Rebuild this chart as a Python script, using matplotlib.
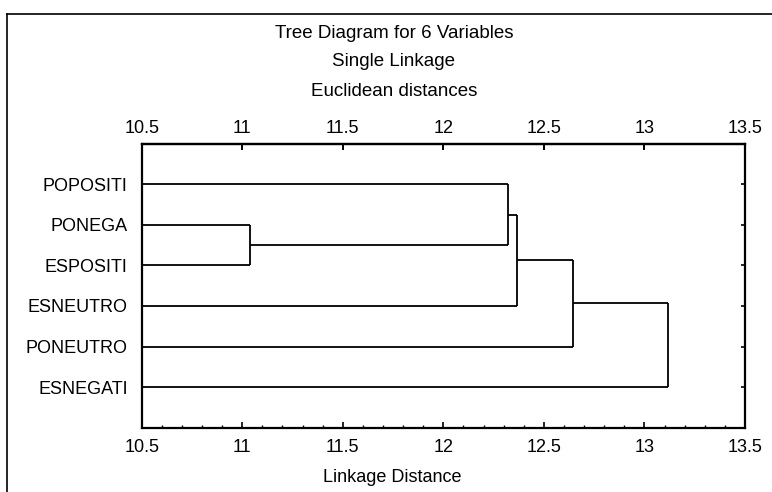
import matplotlib
matplotlib.use("Agg")
import matplotlib.pyplot as plt
from matplotlib.ticker import MultipleLocator
from matplotlib.lines import Line2D

plt.rcParams['font.family'] = ['Liberation Sans', 'DejaVu Sans']

# Data
labels = ['POPOSITI', 'PONEGA', 'ESPOSITI', 'ESNEUTRO', 'PONEUTRO', 'ESNEGATI']
# merges: cluster n+i joins child_a[i] and child_b[i] at linkage distance heights[i]
child_a = [1, 0, 7, 8, 9]
child_b = [2, 6, 3, 4, 5]
heights = [11.04, 12.32, 12.365, 12.645, 13.115]
xmin, xmax = 10.5, 13.5
xticks = [10.5, 11, 11.5, 12, 12.5, 13, 13.5]
xticklabels = ['10.5', '11', '11.5', '12', '12.5', '13', '13.5']

fig = plt.figure(figsize=(7.72, 4.92), dpi=100)
ax = fig.add_axes([0.1835, 0.1307, 0.7815, 0.5772])

n = len(labels)
ypos = {i: i + 1 for i in range(n)}
xpos = {i: xmin for i in range(n)}
lw = 1.3
for k, (a, b, h) in enumerate(zip(child_a, child_b, heights)):
    node = n + k
    for c in (a, b):
        ax.plot([xpos[c], h], [ypos[c], ypos[c]], color='black', lw=lw, solid_capstyle='butt')
    ax.plot([h, h], [ypos[a], ypos[b]], color='black', lw=lw, solid_capstyle='butt')
    ypos[node] = (ypos[a] + ypos[b]) / 2
    xpos[node] = h

ax.set_xlim(xmin, xmax)
ax.set_ylim(n + 1, 0)
ax.set_xticks(xticks)
ax.set_xticklabels(xticklabels)
ax.xaxis.set_minor_locator(MultipleLocator(0.1))
ax.set_yticks(range(1, n + 1))
ax.set_yticklabels(labels)

ax.tick_params(axis='x', which='major', direction='in', top=True, bottom=True,
               labeltop=False, labelbottom=True, length=4, width=1.2,
               labelsize=13, pad=8)
ax.tick_params(axis='x', which='minor', direction='in', top=False, bottom=True,
               length=2.5, width=1)
ax.tick_params(axis='y', which='major', direction='in', left=False, right=True,
               labelleft=True, labelright=False, length=3, width=1.2,
               labelsize=13, pad=10)
for s in ax.spines.values():
    s.set_linewidth(1.6)

top = ax.secondary_xaxis('top')
top.set_xticks(xticks)
top.set_xticklabels(xticklabels)
top.tick_params(direction='in', length=4, width=1.2, labelsize=13, pad=5)
top.spines['top'].set_linewidth(1.6)

xl = ax.set_xlabel('Linkage Distance', fontsize=13)
xl.set_verticalalignment('center')
ax.xaxis.set_label_coords(0.415, -0.177)

cx = 394 / 772
fig.text(cx, 1 - 33 / 492, 'Tree Diagram for 6 Variables', ha='center', va='center', fontsize=13.5)
fig.text(cx, 1 - 62 / 492, 'Single Linkage', ha='center', va='center', fontsize=13.5)
fig.text(cx, 1 - 91 / 492, 'Euclidean distances', ha='center', va='center', fontsize=13.5)

# outer frame
fig.add_artist(Line2D([7 / 772, 7 / 772], [0, 1 - 14 / 492], transform=fig.transFigure,
                      color='black', lw=1.2))
fig.add_artist(Line2D([7 / 772, 1], [1 - 14 / 492, 1 - 14 / 492], transform=fig.transFigure,
                      color='black', lw=1.2))

fig.savefig('out.png', dpi=100)
